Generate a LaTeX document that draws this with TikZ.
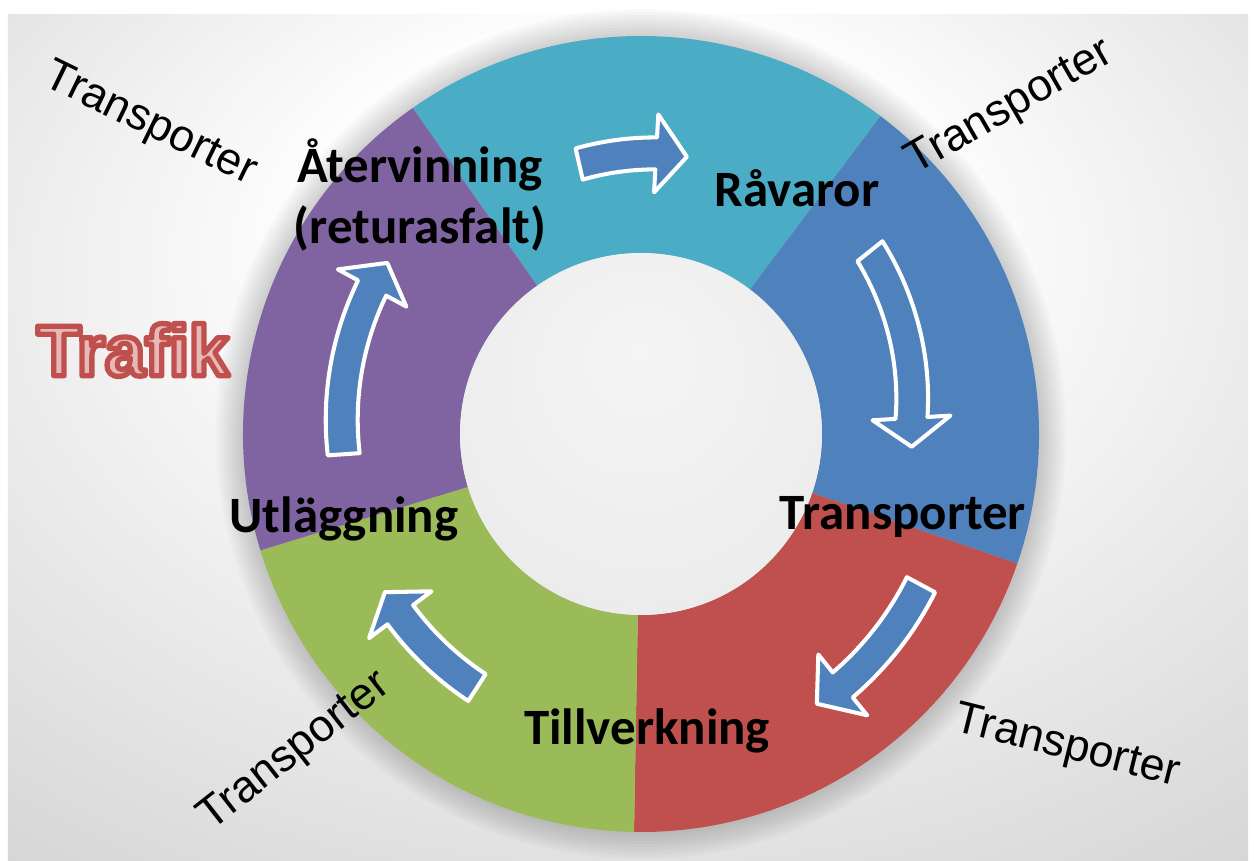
\documentclass[tikz,border=0pt]{standalone}
\usepackage{fontspec}
\setmainfont{Carlito}
\newfontfamily\arialfont{Liberation Sans}

\definecolor{ringcyan}{HTML}{4BACC6}
\definecolor{ringblue}{HTML}{4F81BD}
\definecolor{ringred}{HTML}{C0504D}
\definecolor{ringgreen}{HTML}{9BBB59}
\definecolor{ringpurple}{HTML}{8064A2}
\definecolor{trafikrosa}{HTML}{E6B9B8}

% mjuka skuggningar för bakgrund och hål
\pgfdeclareradialshading{bakgrund}{\pgfpoint{0bp}{14bp}}{%
  color(0bp)=(white); color(12bp)=(white); color(42bp)=(black!17); color(75bp)=(black!29)}
\pgfdeclareradialshading{halet}{\pgfpoint{0bp}{12bp}}{%
  color(0bp)=(black!4); color(35bp)=(black!8); color(52bp)=(black!17)}

% text med röd kontur och rosa fyllning
\newcommand{\konturtext}[1]{{\color{trafikrosa}%
  \special{pdf:literal direct 2 Tr 3 w 1 j 0.753 0.314 0.302 RG}#1%
  \special{pdf:literal direct 0 Tr}}}

% krokig blockpil: svans, pilbas, spets, radie vid svans, radie vid spets
\newcommand{\cykelpil}[5]{%
  \filldraw[fill=ringblue, draw=white, line width=2.3pt, line join=round]
    (#1:{#4+16})
    -- plot[domain=#1:#2, samples=24, variable=\t] (\t:{#4+(#5-#4)*(\t-#1)/(#2-#1)+16})
    -- (#2:{#5+39}) -- (#3:#5) -- (#2:{#5-39})
    -- plot[domain=#2:#1, samples=24, variable=\t] (\t:{#4+(#5-#4)*(\t-#1)/(#2-#1)-16})
    -- cycle;}

\begin{document}
\begin{tikzpicture}[x=0.02cm, y=0.02cm,
    steglabel/.style={font=\fontsize{29}{35}\selectfont\bfseries, align=center},
    translabel/.style={font=\arialfont\fontsize{25.5}{30}\selectfont},
    trafiklabel/.style={font=\arialfont\fontsize{41}{48}\selectfont\bfseries}]
    % Bakgrund
    \useasboundingbox (-641,-427) rectangle (613,434);
    \fill[white] (-641,-427) rectangle (613,434);
    \shade[shading=bakgrund] (-633,-427) rectangle (607,419);

    % Skugga runt ringen
    \foreach \k in {3,6,...,27}
        \fill[black, opacity=0.018] (0,0) circle ({398+\k});

    % Ringens fem sektorer (72 grader var)
    \def\rin{181}
    \def\rut{398}
    \fill[ringcyan]   (125:\rin) arc (125:53:\rin)   -- (53:\rut)   arc (53:125:\rut)   -- cycle;
    \fill[ringblue]   (53:\rin)  arc (53:-19:\rin)   -- (-19:\rut)  arc (-19:53:\rut)   -- cycle;
    \fill[ringred]    (-19:\rin) arc (-19:-91:\rin)  -- (-91:\rut)  arc (-91:-19:\rut)  -- cycle;
    \fill[ringgreen]  (269:\rin) arc (269:197:\rin)  -- (197:\rut)  arc (197:269:\rut)  -- cycle;
    \fill[ringpurple] (197:\rin) arc (197:125:\rin)  -- (125:\rut)  arc (125:197:\rut)  -- cycle;

    % Hålet i mitten
    \shade[shading=halet] (0,0) circle (\rin);

    % Pilar mellan stegen
    \cykelpil{102.9}{86.9}{80.6}{277}{281}
    \cykelpil{38.6}{3.4}{-2.7}{293}{271}
    \cykelpil{-28.3}{-51.2}{-56.9}{318}{322}
    \cykelpil{237.1}{216.9}{211.7}{302}{301}
    \cykelpil{183.9}{151.5}{146}{298}{306}

    % Stegen
    \node[steglabel] (ravaror) at (156,246) {Råvaror};
    \node[steglabel] (transport) at (262,-83) {Transporter};
    \node[steglabel] (tillverkning) at (6,-297) {Tillverkning};
    \node[steglabel] (utlaggning) at (-297,-85) {Utläggning};
    \node[steglabel] (atervinning) at (-221,239) {Återvinning\\(returasfalt)};

    % Transporter mellan stegen
    \node[translabel, rotate=-26] (transTV) at (-491,309) {Transporter};
    \node[translabel, rotate=30] (transTH) at (369,326) {Transporter};
    \node[translabel, rotate=-14] (transNH) at (426,-314) {Transporter};
    \node[translabel, rotate=38] (transNV) at (-346,-318) {Transporter};

    % Trafik
    \node[trafiklabel] (trafik) at (-508,84) {\konturtext{Trafik}};
\end{tikzpicture}
\end{document}
